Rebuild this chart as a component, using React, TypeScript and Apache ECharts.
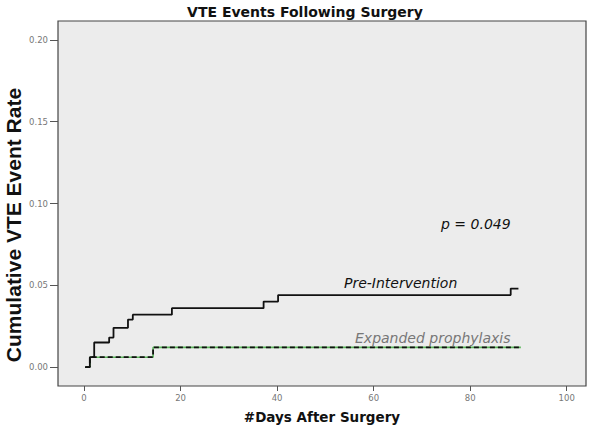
import React, { useEffect, useRef } from "react";
import * as echarts from "echarts";

const preDays = [0.2, 1.2, 2.1, 5.2, 6.1, 9.1, 10.1, 18.2, 37.2, 40.2, 88.4, 90];
const preRates = [0, 0.006, 0.015, 0.018, 0.024, 0.029, 0.032, 0.036, 0.040, 0.044, 0.048, 0.048];
const expDays = [0.3, 1.2, 14.3, 90.5];
const expRates = [0, 0.006, 0.012, 0.012];
const xTicks = [0, 20, 40, 60, 80, 100];
const yTicks = [0, 0.05, 0.1, 0.15, 0.2];

export default function App() {
  const ref = useRef<HTMLDivElement>(null);
  useEffect(() => {
    if (!ref.current) return;
    const chart = echarts.init(ref.current, null, { renderer: "svg" });
    const pre = preDays.map((d, i) => [d, preRates[i]]);
    const exp = expDays.map((d, i) => [d, expRates[i]]);
    chart.setOption({
      animation: false,
      backgroundColor: "#ffffff",
      title: {
        text: "VTE Events Following Surgery",
        left: 300,
        textAlign: "center",
        top: 0,
        textStyle: { fontFamily: "DejaVu Sans", fontWeight: "bold", fontSize: 14, color: "#111" },
      },
      grid: {
        left: 58, right: 14, top: 21, bottom: 43,
        show: true, backgroundColor: "#ececec", borderColor: "#444", borderWidth: 1.2,
      },
      xAxis: {
        type: "value",
        min: -5.4, max: 104,
        name: "#Days After Surgery",
        nameLocation: "middle",
        nameGap: 24,
        nameTextStyle: { fontFamily: "DejaVu Sans", fontWeight: "bold", fontSize: 13.5, color: "#111" },
        axisLine: { show: false, onZero: false },
        splitLine: { show: false },
        axisTick: { show: true, customValues: xTicks, length: 5, lineStyle: { color: "#555" } },
        axisLabel: {
          customValues: xTicks, fontFamily: "DejaVu Sans", fontSize: 8.5, color: "#777", margin: 7,
        },
      },
      yAxis: {
        type: "value",
        min: -0.0116, max: 0.2116,
        axisLine: { show: false, onZero: false },
        splitLine: { show: false },
        axisTick: { show: true, customValues: yTicks, length: 8, lineStyle: { color: "#555" } },
        axisLabel: {
          customValues: yTicks, fontFamily: "DejaVu Sans", fontSize: 8.5, color: "#777", margin: 10,
          formatter: (v: number) => v.toFixed(2),
        },
      },
      series: [
        {
          name: "Expanded prophylaxis green",
          type: "line", step: "end", data: exp, symbol: "none",
          lineStyle: { color: "#5cb85c", width: 1.6 },
        },
        {
          name: "Expanded prophylaxis",
          type: "line", step: "end", data: exp, symbol: "none",
          lineStyle: { color: "#111", width: 1.8, type: [5, 3] },
        },
        {
          name: "Pre-Intervention",
          type: "line", step: "end", data: pre, symbol: "none",
          lineStyle: { color: "#111", width: 1.8 },
        },
      ],
      graphic: [
        {
          type: "text", x: 13, y: 225, rotation: Math.PI / 2,
          style: {
            text: "Cumulative VTE Event Rate", font: "bold 21px 'Liberation Sans'", fill: "#111",
            align: "center", verticalAlign: "middle",
          },
        },
        {
          type: "text", x: 344, y: 283,
          style: { text: "Pre-Intervention", font: "italic 14px 'DejaVu Sans'", fill: "#111", verticalAlign: "middle" },
        },
        {
          type: "text", x: 355, y: 338,
          style: { text: "Expanded prophylaxis", font: "italic 14px 'DejaVu Sans'", fill: "#777", verticalAlign: "middle" },
        },
        {
          type: "text", x: 441, y: 224,
          style: { text: "p = 0.049", font: "italic 14px 'DejaVu Sans'", fill: "#111", verticalAlign: "middle" },
        },
      ],
    });
    return () => chart.dispose();
  }, []);
  return <div ref={ref} style={{ position: "fixed", left: 0, top: 0, width: 600, height: 429 }} />;
}
